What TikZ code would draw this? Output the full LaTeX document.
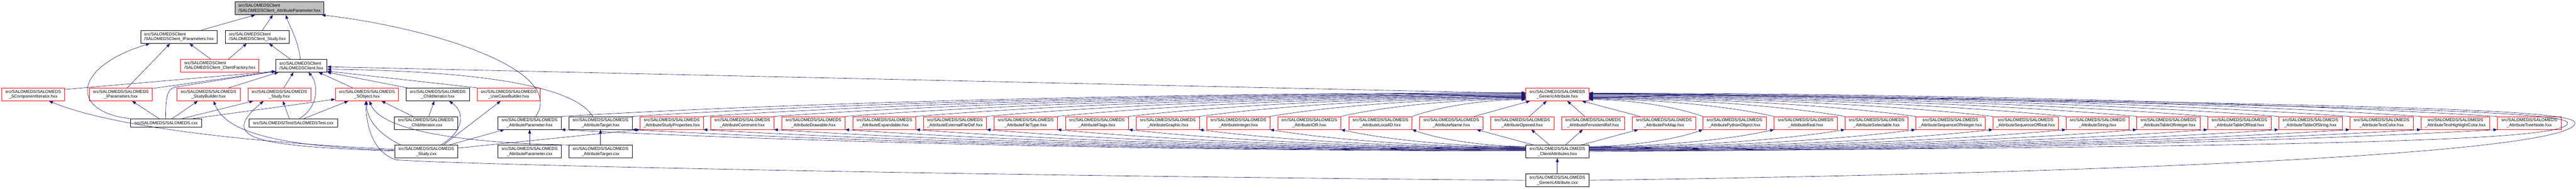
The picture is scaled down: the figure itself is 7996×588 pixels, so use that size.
\documentclass[tikz,border=0pt]{standalone}
\usepackage{fontspec}
\setmainfont{Liberation Sans}
\usetikzlibrary{arrows.meta,calc}
\definecolor{edgeblue}{HTML}{191970}
\definecolor{rootgray}{HTML}{BFBFBF}
\begin{document}
\begin{tikzpicture}[x=1pt,y=-1pt,
 dbox/.style={draw=black,line width=1.1pt,inner sep=0pt,minimum height=40pt,minimum width=196pt,align=center,font=\fontsize{13.3pt}{15.5pt}\selectfont},
 rbox/.style={dbox,draw=red},
 lbox/.style={dbox,align=left},
 onebox/.style={dbox,minimum height=26pt},
 conn/.style={draw=edgeblue,line width=1pt,-{Triangle[length=12pt,width=9pt]}},
]
\fill[white] (0,0) rectangle (7996,588);
\useasboundingbox (0,0) rectangle (7996,588);
% row 0
\node[lbox,fill=rootgray,minimum width=275pt] (root) at (867.5,26) {src/SALOMEDSClient\\/SALOMEDSClient\_AttributeParameter.hxx};
% row 1
\node[lbox,minimum width=237pt] (ciparam) at (555.5,115) {src/SALOMEDSClient\\/SALOMEDSClient\_IParameters.hxx};
\node[lbox,minimum width=198pt] (cstudy) at (799,115) {src/SALOMEDSClient\\/SALOMEDSClient\_Study.hxx};
% row 2
\node[lbox,draw=red,minimum width=243pt] (cfactory) at (682.5,204.5) {src/SALOMEDSClient\\/SALOMEDSClient\_ClientFactory.hxx};
\node[lbox,minimum width=159pt] (sclient) at (935.5,204.5) {src/SALOMEDSClient\\/SALOMEDSClient.hxx};
% row 3
\node[rbox] (scompiter) at (103,294) {src/SALOMEDS/SALOMEDS\\\_SComponentIterator.hxx};
\node[rbox] (iparam) at (375,294) {src/SALOMEDS/SALOMEDS\\\_IParameters.hxx};
\node[rbox] (sbuilder) at (647,294) {src/SALOMEDS/SALOMEDS\\\_StudyBuilder.hxx};
\node[rbox] (study) at (867,294) {src/SALOMEDS/SALOMEDS\\\_Study.hxx};
\node[rbox] (sobject) at (1139,294) {src/SALOMEDS/SALOMEDS\\\_SObject.hxx};
\node[dbox] (chiterh) at (1359,294) {src/SALOMEDS/SALOMEDS\\\_ChildIterator.hxx};
\node[rbox] (usecase) at (1579,294) {src/SALOMEDS/SALOMEDS\\\_UseCaseBuilder.hxx};
\node[rbox] (genh) at (4834,294) {src/SALOMEDS/SALOMEDS\\\_GenericAttribute.hxx};
% row 4
\node[onebox,minimum width=221pt] (salcxx) at (515.5,383) {src/SALOMEDS/SALOMEDS.cxx};
\node[onebox,minimum width=275pt] (testcxx) at (910.5,383) {src/SALOMEDS/Test/SALOMEDSTest.cxx};
\node[dbox] (chitercxx) at (1322,383) {src/SALOMEDS/SALOMEDS\\\_ChildIterator.cxx};
\node[dbox] (aparamh) at (1644,383) {src/SALOMEDS/SALOMEDS\\\_AttributeParameter.hxx};
\node[dbox] (atargeth) at (1864,383) {src/SALOMEDS/SALOMEDS\\\_AttributeTarget.hxx};
\foreach \nm/\px/\ww/\lab in {asp/2085/196/StudyProperties, acomment/2304/196/Comment, adrawable/2525/196/Drawable, aexpand/2745/196/Expandable, aextfile/2964/196/ExternalFileDef, afiletype/3184/196/FileType, aflags/3405/196/Flags, agraphic/3625/196/Graphic, ainteger/3844/196/Integer, aior/4064/196/IOR, alocalid/4285/196/LocalID, aname/4505/196/Name, aopened/4725/196/Opened, apersref/4945/196/PersistentRef, apixmap/5165/196/PixMap, apython/5384/196/PythonObject, areal/5605/196/Real, aselect/5825/196/Selectable, aseqint/6054/216/SequenceOfInteger, aseqreal/6287.5/203/SequenceOfReal, astring/6511/196/String, atabint/6731/196/TableOfInteger, atabreal/6951/196/TableOfReal, atabstr/7171.5/197/TableOfString, atextcol/7392.5/197/TextColor, atexthl/7621.5/213/TextHighlightColor, atree/7851/198/TreeNode}
  \node[rbox,minimum width=\ww pt] (\nm) at (\px,383) {src/SALOMEDS/SALOMEDS\\\_Attribute\lab.hxx};
% row 5
\node[dbox] (studycxx) at (1323,472) {src/SALOMEDS/SALOMEDS\\\_Study.cxx};
\node[dbox] (aparamcxx) at (1644,472) {src/SALOMEDS/SALOMEDS\\\_AttributeParameter.cxx};
\node[dbox] (atargetcxx) at (1864,472) {src/SALOMEDS/SALOMEDS\\\_AttributeTarget.cxx};
\node[dbox] (clattr) at (4834,472) {src/SALOMEDS/SALOMEDS\\\_ClientAttributes.hxx};
% row 6
\node[dbox] (gencxx) at (4834,561.5) {src/SALOMEDS/SALOMEDS\\\_GenericAttribute.cxx};
% helper coordinates
\coordinate (k12) at (540,272);
\coordinate (k40) at (1230,498);
\coordinate (kr1) at (7993,383);
\coordinate (kr2) at (7970,383);
% edges
\draw[conn] ($(ciparam.north)+(67.5,0)$) -- ($(root.south)+(-75.5,0)$);
\draw[conn] ($(cstudy.north)+(15,0)$) -- ($(root.south)+(-20.5,0)$);
\draw[conn] ($(sclient.north)+(-3.5,0)$) .. controls +(-5,-55) and +(12,35) .. ($(root.south)+(19.5,0)$);
\draw[conn] ($(aparamh.north)+(19,0)$) .. controls +(97,-143) and +(350,41) .. ($(root.south east)+(-7,0)$);
\draw[conn] ($(cfactory.north)+(-28.5,0)$) -- ($(ciparam.south)+(32.5,0)$);
\draw[conn] ($(cfactory.north)+(26.5,0)$) -- ($(cstudy.south)+(-33,0)$);
\draw[conn] ($(sclient.north)+(-34.5,0)$) -- ($(cstudy.south)+(36,0)$);
\draw[conn] (salcxx.north west) .. controls +(-185,-20) and +(-245,75) .. ($(ciparam.south)+(-90.5,0)$);
\draw[conn] ($(iparam.north)+(20,0)$) -- ($(ciparam.south)+(-27.5,0)$);
\draw[conn] ($(scompiter.north east)+(0,5)$) -- ($(sclient.south west)+(0,-3)$);
\draw[conn] ($(iparam.north east)+(0,2)$) -- ($(sclient.south west)+(0,-3)$);
\draw[conn] ($(salcxx.north)+(-1.5,0)$) .. controls +(0,-70) and +(-20,8) .. (k12) -- ($(sclient.south west)+(0,-3)$);
\draw[conn] ($(sbuilder.north)+(63,0)$) -- ($(sclient.south)+(-71,0)$);
\draw[conn] ($(study.north)+(14,0)$) -- ($(sclient.south)+(-24.5,0)$);
\draw[conn] ($(sobject.north)+(-44,0)$) -- ($(sclient.south)+(53.5,0)$);
\draw[conn] ($(chiterh.north west)+(4,0)$) -- (sclient.south east);
\draw[conn] (usecase.north west) -- ($(sclient.east)+(0,17)$);
\draw[conn] ($(testcxx.north)+(18.5,0)$) .. controls +(66,-40) and +(28,30) .. ($(sclient.south)+(21.5,0)$);
\draw[conn] ($(genh.west)+(0,-3)$) -- ($(sclient.east)+(0,3.5)$);
\draw[conn] ($(atargeth.north)+(-24,0)$) .. controls +(-50,-83) and +(535,6.5) .. ($(sclient.east)+(0,11)$);
\draw[conn] ($(salcxx.north)+(-21.5,0)$) -- ($(iparam.south)+(35,0)$);
\draw[conn] ($(salcxx.north)+(18.5,0)$) -- ($(sbuilder.south)+(-33,0)$);
\draw[conn] ($(salcxx.north)+(49.5,0)$) -- ($(study.south)+(-81,0)$);
\draw[conn] ($(salcxx.north east)+(-29,0)$) -- ($(sobject.west)+(0,15)$);
\draw[conn] ($(testcxx.north)+(-12.5,0)$) -- ($(study.south)+(11,0)$);
\draw[conn] ($(testcxx.north)+(32.5,0)$) -- ($(sobject.south)+(-58,0)$);
\draw[conn] ($(chitercxx.north)+(-40,0)$) -- ($(sobject.south)+(45,0)$);
\draw[conn] ($(chitercxx.north)+(9,0)$) -- ($(chiterh.south)+(-11,0)$);
\draw[conn] ($(studycxx.west)+(0,-7)$) .. controls +(-424,-20) and +(203,84) .. ($(scompiter.south)+(49,0)$);
\draw[conn] ($(studycxx.west)+(0,-4)$) .. controls +(-375,-13) and +(37,95) .. ($(sbuilder.south)+(16,0)$);
\draw[conn] ($(studycxx.west)+(0,-2)$) .. controls +(-445,-15) and +(-137,116) .. ($(study.south)+(-49,0)$);
\draw[conn] ($(studycxx.north)+(-79,0)$) .. controls +(-84,-42) and +(0,46) .. ($(sobject.south)+(-1,0)$);
\draw[conn] ($(studycxx.north)+(45,0)$) .. controls +(72,-42) and +(51,35) .. ($(chiterh.south)+(35,0)$);
\draw[conn] ($(studycxx.north)+(53,0)$) -- ($(usecase.south)+(-25,0)$);
\draw[conn] ($(studycxx.north)+(71,0)$) -- ($(aparamh.south west)+(20,0)$);
\draw[conn] ($(studycxx.east)+(0,-11)$) -- (asp.south west);
\draw[conn] (aparamcxx.north) -- (aparamh.south);
\draw[conn] (atargetcxx.north) -- (atargeth.south);
\draw[conn] (atargetcxx.north west) .. controls +(-366,-7) and +(33,86) .. ($(sobject.south)+(8,0)$);
\draw[conn] (gencxx.west) .. controls +(-1736,-15) and +(270,17) .. (k40) .. controls +(-70,-23) and +(3,86) .. ($(sobject.south)+(-4,0)$);
\draw[conn] (gencxx.north) -- (clattr.south);
\draw[conn] (gencxx.east) .. controls +(2068,-29) and +(-3,77) .. (kr1) .. controls +(0,-43) and +(2468,35) .. ($(genh.east)+(0,-4)$);
\draw[conn] (clattr.east) .. controls +(2268,-17) and +(0,57) .. (kr2) .. controls +(0,-38) and +(2368,38) .. ($(genh.east)+(0,-3)$);
% attribute headers left of GenericAttribute
\foreach \nm/\dx/\gy/\cy in {aparamh/2994/-5/-2, atargeth/2774/-3.25/-3.2, asp/2553/-1.5/-4.3, acomment/2334/0.25/-5.5, adrawable/2113/2/-6.7, aexpand/1893/3.75/-7.8, aextfile/1674/5.5/-9, afiletype/1454/7.25/-10.2, aflags/1233/9/-11.3, agraphic/1013/10.75/-12.5, ainteger/794/12.5/-13.7, aior/574/14.25/-14.8, alocalid/353/16/-16}
{
  \draw[conn] (\nm.north east) .. controls +({0.25*\dx},{-0.6*(69-(\gy))}) and +({-0.35*\dx},0) .. ($(genh.west)+(0,\gy)$);
  \draw[conn] ($(clattr.west)+(0,\cy)$) .. controls +({-0.35*\dx},0) and +({0.25*\dx},{0.6*(69+(\cy))}) .. (\nm.south east);
}
% attribute headers right of GenericAttribute
\foreach \nm/\dx/\gy/\cy in {apython/354/16/-16, areal/575/14.2/-14.7, aselect/795/12.4/-13.5, aseqint/1014/10.6/-12.2, aseqreal/1254/8.8/-11, astring/1481/7/-9.7, atabint/1701/5.2/-8.4, atabreal/1921/3.4/-7.2, atabstr/2141/1.6/-5.9, atextcol/2362/-0.2/-4.6, atexthl/2583/-2/-3.4, atree/2820/-3.8/-2}
{
  \draw[conn] (\nm.north west) .. controls +({-0.25*\dx},{-0.6*(69-(\gy))}) and +({0.35*\dx},0) .. ($(genh.east)+(0,\gy)$);
  \draw[conn] ($(clattr.east)+(0,\cy)$) .. controls +({0.35*\dx},0) and +({-0.25*\dx},{0.6*(69+(\cy))}) .. (\nm.south west);
}
% attribute headers under GenericAttribute
\draw[conn] ($(aname.north east)+(-28,0)$) -- ($(genh.south west)+(14,0)$);
\draw[conn] ($(aopened.north)+(22,0)$) -- ($(genh.south)+(-33,0)$);
\draw[conn] ($(apersref.north)+(-26,0)$) -- ($(genh.south)+(31,0)$);
\draw[conn] ($(apixmap.north west)+(24,0)$) -- ($(genh.south east)+(-22,0)$);
\draw[conn] ($(clattr.north west)+(25,0)$) -- ($(aname.south east)+(-20,0)$);
\draw[conn] ($(clattr.north)+(-24,0)$) -- ($(aopened.south)+(28,0)$);
\draw[conn] ($(clattr.north)+(25,0)$) -- ($(apersref.south)+(-32,0)$);
\draw[conn] ($(clattr.north)+(74,0)$) -- ($(apixmap.south west)+(19,0)$);
\end{tikzpicture}
\end{document}
